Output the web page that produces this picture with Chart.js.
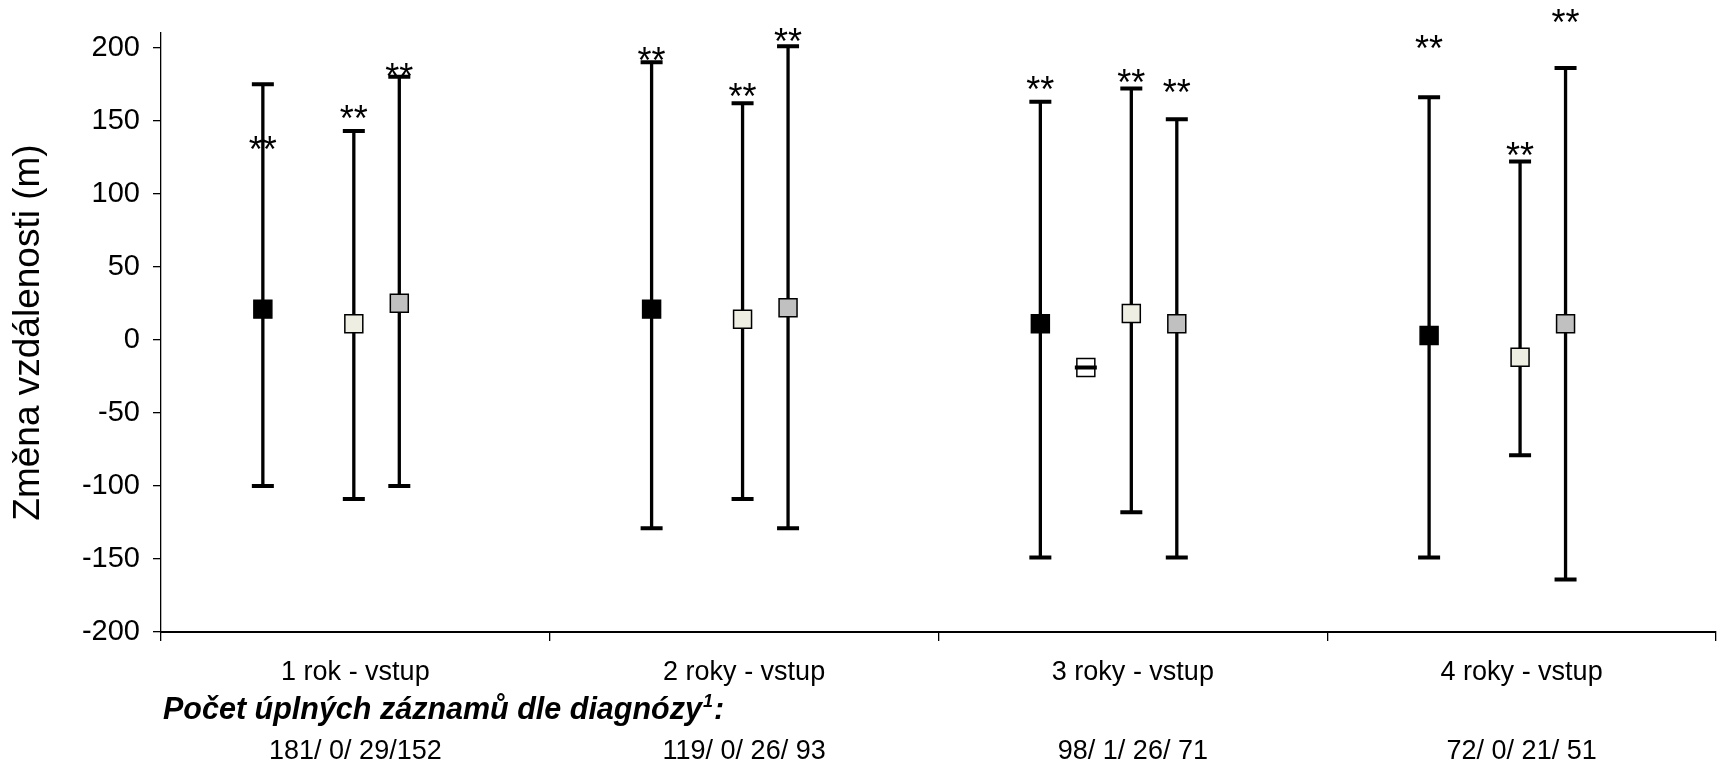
<!DOCTYPE html>
<html lang="cs">
<head>
<meta charset="utf-8">
<title>Změna vzdálenosti</title>
<script src="https://cdn.jsdelivr.net/npm/chart.js@4.4.1/dist/chart.umd.min.js"></script>
<style>
    html, body { margin: 0; padding: 0; background: #fff; }
    #chart { display: block; }
</style>
</head>
<body>
<canvas id="chart" width="1721" height="764"></canvas>
<script>
'use strict';

/* --------------------------------------------------------------------------
   DATA
   -------------------------------------------------------------------------- */
const CATEGORIES = ['1 rok - vstup', '2 roky - vstup', '3 roky - vstup', '4 roky - vstup'];
const COUNTS = ['181/ 0/ 29/152', '119/ 0/ 26/ 93', '98/ 1/ 26/ 71', '72/ 0/ 21/ 51'];
const COUNTS_TITLE = ['Počet úplných záznamů dle diagnózy', '1', ':'];   // text, superscript, tail
const Y_TICKS = [-200, -150, -100, -50, 0, 50, 100, 150, 200];

// mean change and whisker ends per category, one set per diagnosis series
const ALL_MEAN   = [21, 21, 11, 3];
const ALL_LOW    = [-100, -129, -149, -149];
const ALL_HIGH   = [175, 190, 163, 166];

const DX1_MEAN   = [null, null, -19, null];
const DX1_LOW    = [null, null, -19, null];
const DX1_HIGH   = [null, null, -19, null];

const DX2_MEAN   = [11, 14, 18, -12];
const DX2_LOW    = [-109, -109, -118, -79];
const DX2_HIGH   = [143, 162, 172, 122];

const DX3_MEAN   = [25, 22, 11, 11];
const DX3_LOW    = [-100, -129, -149, -164];
const DX3_HIGH   = [180, 201, 151, 186];

// height (in m) of the "**" significance marks, null = none
const ALL_STARS  = [136, 197, 177, 205];
const DX1_STARS  = [null, null, null, null];
const DX2_STARS  = [157, 172, 182, 132];
const DX3_STARS  = [186, 210, 175, 223];

/* --------------------------------------------------------------------------
   LAYOUT / STYLE
   -------------------------------------------------------------------------- */
const FONT = "'Liberation Sans', Arial, sans-serif";
const SLOT = [0.262, 0.379, 0.496, 0.613];   // x offset of each series inside a category
const STAR_SIZE = 36;

const SERIES = [
    { label: 'Celkem', mean: ALL_MEAN, low: ALL_LOW, high: ALL_HIGH, stars: ALL_STARS, fill: '#000000' },
    { label: 'Dg 1',   mean: DX1_MEAN, low: DX1_LOW, high: DX1_HIGH, stars: DX1_STARS, fill: 'rgba(255,255,255,0)' },
    { label: 'Dg 2',   mean: DX2_MEAN, low: DX2_LOW, high: DX2_HIGH, stars: DX2_STARS, fill: '#EFEEE3' },
    { label: 'Dg 3',   mean: DX3_MEAN, low: DX3_LOW, high: DX3_HIGH, stars: DX3_STARS, fill: '#C0C0C0' },
];

/* --------------------------------------------------------------------------
   PLUGINS
   -------------------------------------------------------------------------- */
const errorBars = {
    id: 'errorBars',
    beforeDatasetsDraw(chart) {
        const { ctx, scales: { x, y } } = chart;
        ctx.save();
        ctx.strokeStyle = '#000';
        SERIES.forEach((s, si) => {
            s.mean.forEach((m, ci) => {
                if (m === null) return;
                const px = x.getPixelForValue(ci + SLOT[si]);
                const yl = y.getPixelForValue(s.low[ci]);
                const yh = y.getPixelForValue(s.high[ci]);
                ctx.lineWidth = 3.3;
                ctx.beginPath();
                ctx.moveTo(px, yl);
                ctx.lineTo(px, yh);
                ctx.stroke();
                ctx.lineWidth = 4;
                ctx.beginPath();
                ctx.moveTo(px - 11, yl); ctx.lineTo(px + 11, yl);
                ctx.moveTo(px - 11, yh); ctx.lineTo(px + 11, yh);
                ctx.stroke();
            });
        });
        ctx.restore();
    },
};

const annotations = {
    id: 'annotations',
    afterDraw(chart) {
        const { ctx, scales: { x, y } } = chart;
        ctx.save();
        ctx.fillStyle = '#000';

        // significance marks, centred on their value
        ctx.font = STAR_SIZE + 'px ' + FONT;
        ctx.textAlign = 'center';
        ctx.textBaseline = 'alphabetic';
        SERIES.forEach((s, si) => {
            s.stars.forEach((v, ci) => {
                if (v === null) return;
                ctx.fillText('**', x.getPixelForValue(ci + SLOT[si]), y.getPixelForValue(v) + STAR_SIZE * 0.575);
            });
        });

        // category names and record counts under the axis
        ctx.font = '27px ' + FONT;
        CATEGORIES.forEach((c, ci) => {
            ctx.fillText(c, x.getPixelForValue(ci + 0.5), 680);
            ctx.fillText(COUNTS[ci], x.getPixelForValue(ci + 0.5), 759);
        });

        // "Počet ... diagnózy¹:" heading
        ctx.textAlign = 'left';
        let tx = x.left + 2;
        ctx.font = 'italic bold 30.5px ' + FONT;
        ctx.fillText(COUNTS_TITLE[0], tx, 719);
        tx += ctx.measureText(COUNTS_TITLE[0]).width + 1;
        ctx.font = 'italic bold 18px ' + FONT;
        ctx.fillText(COUNTS_TITLE[1], tx, 707);
        tx += ctx.measureText(COUNTS_TITLE[1]).width + 1;
        ctx.font = 'italic bold 30.5px ' + FONT;
        ctx.fillText(COUNTS_TITLE[2], tx, 719);
        ctx.restore();
    },
};

/* --------------------------------------------------------------------------
   CHART
   -------------------------------------------------------------------------- */
function renderDistanceChart() {
    const ctx = document.getElementById('chart').getContext('2d');
    new Chart(ctx, {
        type: 'scatter',
        data: {
            datasets: SERIES.map((s, si) => ({
                label: s.label,
                data: s.mean.map((m, ci) => ({ x: ci + SLOT[si], y: m })),
                backgroundColor: s.fill,
                borderColor: '#000',
                borderWidth: 1.5,
                pointStyle: 'rect',
                pointRadius: 12.7,
                pointHoverRadius: 12.7,
            })),
        },
        options: {
            responsive: false,
            animation: false,
            devicePixelRatio: 1,
            layout: { autoPadding: false, padding: { top: 33, right: 5, left: 0, bottom: 0 } },
            plugins: { legend: { display: false }, tooltip: { enabled: false } },
            scales: {
                x: {
                    type: 'linear', min: 0, max: 4,
                    afterBuildTicks: axis => { axis.ticks = [0, 1, 2, 3, 4].map(v => ({ value: v })); },
                    afterFit: axis => { axis.height = 132; },
                    ticks: { callback: () => '' },
                    grid: { drawOnChartArea: false, drawTicks: true, tickLength: 9, color: '#000', lineWidth: 1.3 },
                    border: { display: true, color: '#000', width: 2 },
                },
                y: {
                    min: -200, max: 210,
                    afterBuildTicks: axis => { axis.ticks = Y_TICKS.map(v => ({ value: v })); },
                    afterFit: axis => { axis.width = 161; },
                    ticks: { color: '#000', font: { family: FONT, size: 29 }, padding: 13 },
                    grid: { drawOnChartArea: false, drawTicks: true, tickLength: 8, color: '#000', lineWidth: 1.3 },
                    border: { display: true, color: '#000', width: 1.3 },
                    title: {
                        display: true, text: 'Změna vzdálenosti (m)', color: '#000',
                        font: { family: FONT, size: 37 }, padding: { top: 7, bottom: 0 },
                    },
                },
            },
        },
        plugins: [errorBars, annotations],
    });
}

renderDistanceChart();
</script>
</body>
</html>
